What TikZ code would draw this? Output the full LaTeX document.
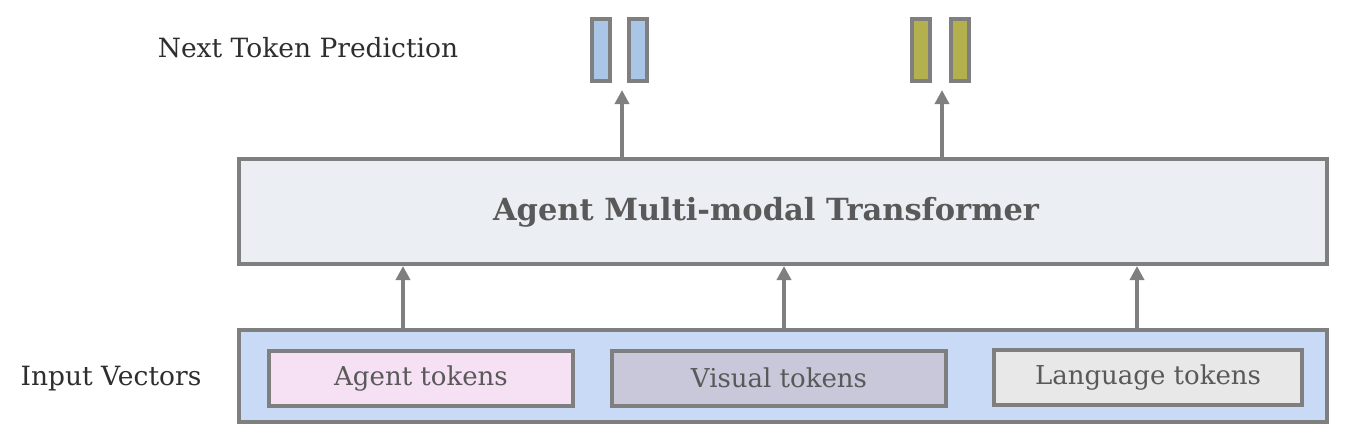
\documentclass[tikz,border=0pt]{standalone}
\usepackage{fontspec}
\setmainfont{DejaVu Serif}
\usetikzlibrary{arrows.meta}
\definecolor{edge}{HTML}{7F7F7F}
\definecolor{txt}{HTML}{595959}
\definecolor{dark}{HTML}{2E2E2E}
\definecolor{tfill}{HTML}{EBEEF3}
\definecolor{infill}{HTML}{C8DAF6}
\definecolor{agfill}{HTML}{F6E0F3}
\definecolor{visfill}{HTML}{C9C8DB}
\definecolor{lanfill}{HTML}{E8E8E8}
\definecolor{bluetok}{HTML}{A9C6E6}
\definecolor{olivetok}{HTML}{B3B04E}
\begin{document}
\begin{tikzpicture}[x=1pt,y=-1pt,
  box/.style={draw=edge,line width=4pt,inner sep=0pt},
  tok/.style={draw=edge,line width=4pt,minimum width=18pt,minimum height=62pt,inner sep=0pt},
  tokbox/.style={box,minimum height=55pt,font=\fontsize{26}{30}\selectfont,text=txt},
  arr/.style={draw=edge,line width=3.5pt,-{Triangle[length=14pt,width=14pt]}},
  lab/.style={font=\fontsize{26.5}{30}\selectfont,text=dark}]
\useasboundingbox (0,0) rectangle (1346,432);
\node[box,fill=tfill,minimum width=1088pt,minimum height=105pt] (tr) at (783,211.5) {};
\node[font=\bfseries\fontsize{30.5}{34}\selectfont,text=txt] (trl) at (766,212) {Agent Multi-modal Transformer};
\node[box,fill=infill,minimum width=1088pt,minimum height=92pt] (in) at (783,376) {};
\node[tokbox,fill=agfill,minimum width=304pt] (ag) at (421,378.5) {Agent tokens};
\node[tokbox,fill=visfill,minimum width=334pt] (vis) at (779,378) {Visual tokens};
\node[tokbox,fill=lanfill,minimum width=308pt] (lan) at (1148,377.5) {Language tokens};
\node[lab,anchor=center] (ntp) at (308,48) {Next Token Prediction};
\node[lab,anchor=center] (iv) at (111,379) {Input Vectors};
\node[tok,fill=bluetok] (b1) at (601,50) {};
\node[tok,fill=bluetok] (b2) at (638,50) {};
\node[tok,fill=olivetok] (o1) at (921,50) {};
\node[tok,fill=olivetok] (o2) at (959.5,50) {};
\coordinate (t1) at (622,90);
\coordinate (t2) at (942,90);
\draw[arr] (tr.north -| t1) -- (t1);
\draw[arr] (tr.north -| t2) -- (t2);
\coordinate (a1) at (403,0);
\coordinate (a2) at (784,0);
\coordinate (a3) at (1137,0);
\draw[arr] (in.north -| a1) -- (tr.south -| a1);
\draw[arr] (in.north -| a2) -- (tr.south -| a2);
\draw[arr] (in.north -| a3) -- (tr.south -| a3);
\end{tikzpicture}
\end{document}
